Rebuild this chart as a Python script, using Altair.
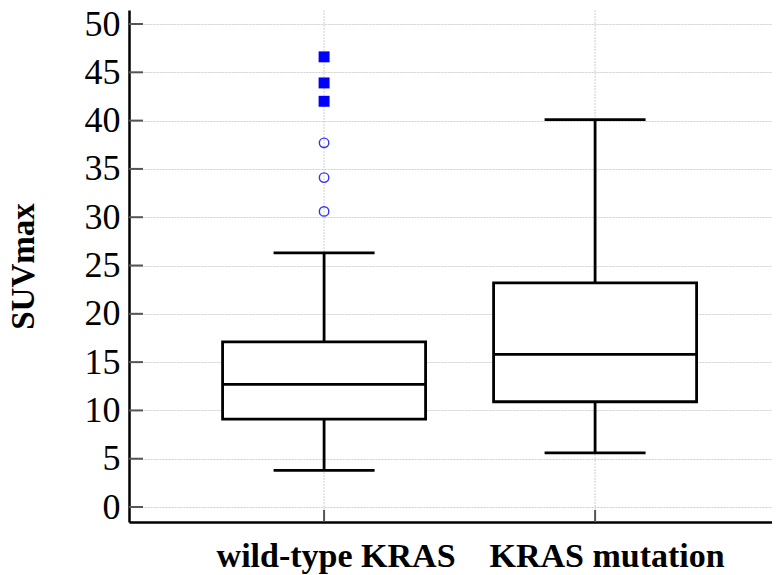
import altair as alt
import pandas as pd

groups = ["wild-type KRAS", "KRAS mutation"]
lower = [3.8, 5.6]
q1 = [9.1, 10.9]
median = [12.7, 15.8]
q3 = [17.1, 23.2]
upper = [26.3, 40.1]

circle_groups = ["wild-type KRAS", "wild-type KRAS", "wild-type KRAS"]
circle_vals = [30.6, 34.1, 37.7]
square_groups = ["wild-type KRAS", "wild-type KRAS", "wild-type KRAS"]
square_vals = [42.0, 43.9, 46.6]

y_ticks = list(range(0, 51, 5))

W, H = 643, 512
SERIF = "Liberation Serif, Times New Roman, serif"

box = pd.DataFrame({"group": groups, "lower": lower, "q1": q1,
                    "median": median, "q3": q3, "upper": upper})
circ = pd.DataFrame({"group": circle_groups, "v": circle_vals})
sq = pd.DataFrame({"group": square_groups, "v": square_vals})
ticks = pd.DataFrame({"v": y_ticks})

xscale = alt.Scale(domain=groups, paddingOuter=0.1863, paddingInner=0, align=0.59)
yscale = alt.Scale(domain=[-1.55, 51.45], nice=False, zero=False)

x_axis = alt.Axis(title=None, ticks=False, grid=False, domainColor="black",
                  domainWidth=2.5, labelFont=SERIF, labelFontSize=34,
                  labelFontWeight="bold", labelColor="black", labelPadding=17,
                  labelOffset=12, labelAngle=0, labelLimit=0)
y_axis = alt.Axis(title="SUVmax", values=y_ticks, ticks=False, grid=True,
                  gridColor="#cfcfcf", gridWidth=1, gridDash=[2, 1],
                  domainColor="black", domainWidth=2.5,
                  labelFont=SERIF, labelFontSize=36, labelColor="black",
                  labelPadding=9, labelLimit=0, titleFont=SERIF,
                  titleFontSize=33, titleFontWeight="bold", titleColor="black",
                  titlePadding=44)

X = alt.X("group:N", scale=xscale, axis=x_axis, sort=groups)

base = alt.Chart(box)

vgrid = base.mark_rule(color="#cfcfcf", strokeWidth=1, strokeDash=[2, 1]).encode(
    x=X, y=alt.value(0), y2=alt.value(H))

whisk = base.mark_rule(color="black", strokeWidth=2.8, opacity=1).encode(
    x=X, y=alt.Y("lower:Q", scale=yscale, axis=y_axis), y2="upper:Q")

boxes = base.mark_bar(size=203, fill="white", stroke="black", strokeWidth=2.8,
                      opacity=1).encode(x=X, y="q1:Q", y2="q3:Q")

meds = base.mark_tick(size=203, thickness=2.8, color="black", opacity=1).encode(
    x=X, y="median:Q")
cap_lo = base.mark_tick(size=101, thickness=2.8, color="black", opacity=1).encode(
    x=X, y="lower:Q")
cap_hi = base.mark_tick(size=101, thickness=2.8, color="black", opacity=1).encode(
    x=X, y="upper:Q")

circles = alt.Chart(circ).mark_point(shape="circle", size=90, filled=False,
                                     color="#3333ff", strokeWidth=1.4,
                                     opacity=1).encode(x=X, y="v:Q")
squares = alt.Chart(sq).mark_point(shape="square", size=120, filled=True,
                                   color="#0000ff", opacity=1).encode(
    x=X, y="v:Q")

ytk = alt.Chart(ticks).mark_rule(color="#555555", strokeWidth=2).encode(
    x=alt.value(0), x2=alt.value(14), y="v:Q")
xtk = base.mark_rule(color="#555555", strokeWidth=2).encode(
    x=X, y=alt.value(H), y2=alt.value(H - 12))

chart = alt.layer(vgrid, whisk, boxes, meds, cap_lo, cap_hi, circles, squares, ytk, xtk).properties(
    width=W, height=H,
    autosize=alt.AutoSizeParams(type="none"),
    padding={"left": 121, "top": 2, "right": 0, "bottom": 60},
).configure_view(stroke=None)

chart.save("out.html", embed_options={"renderer": "svg", "actions": False})
